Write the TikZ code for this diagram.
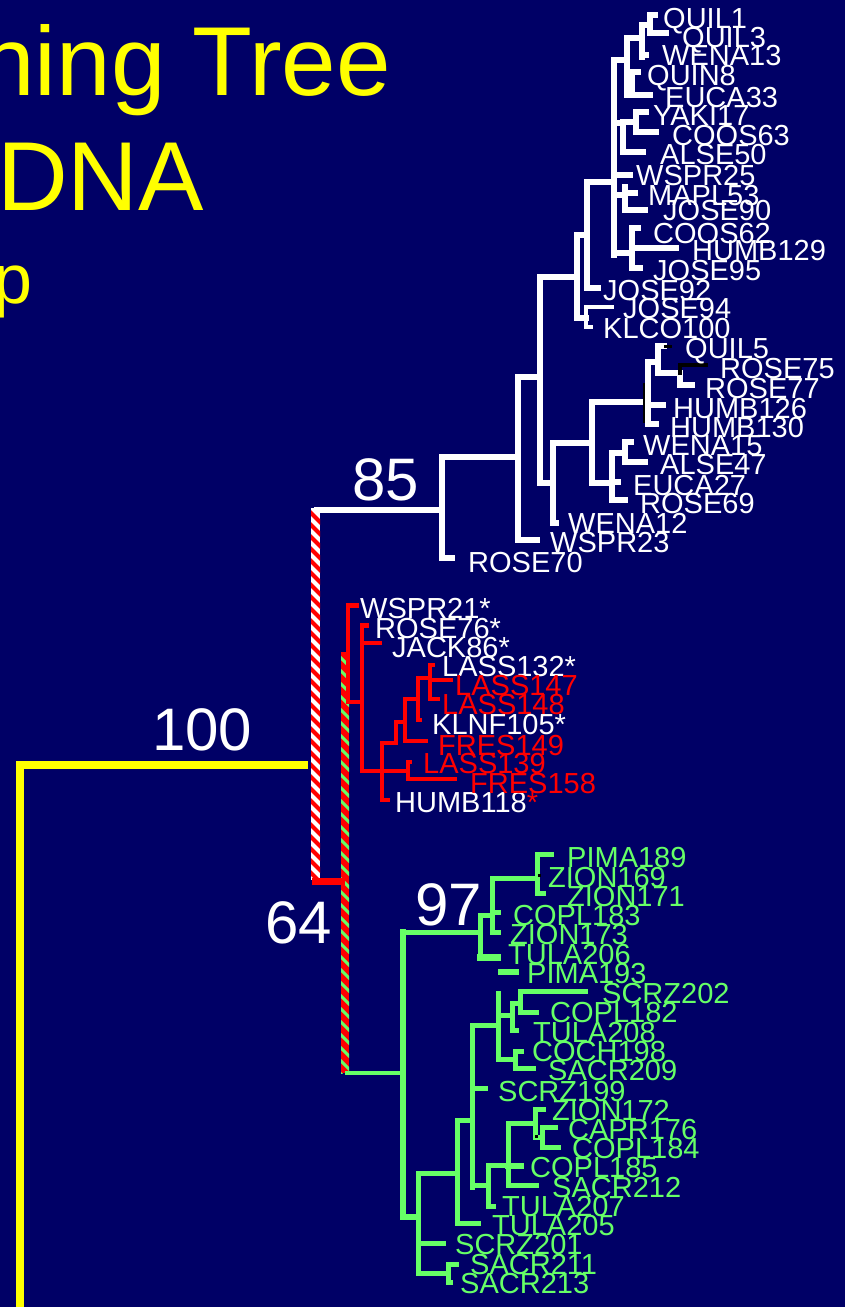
\documentclass[tikz,border=0pt]{standalone}
\usepackage{fontspec}
\setmainfont{Liberation Sans}
\definecolor{bg}{RGB}{0,0,102}
\definecolor{tgreen}{RGB}{102,255,102}
\definecolor{tred}{RGB}{255,0,0}
\definecolor{tyel}{RGB}{255,255,0}
\begin{document}
\begin{tikzpicture}[x=1pt,y=-1pt,line cap=rect,
 wl/.style={draw=white,line width=6.5pt},
 wt/.style={draw=white,line width=4pt},
 rl/.style={draw=tred,line width=4pt},
 gl/.style={draw=tgreen,line width=5pt},
 lab/.style={anchor=base west,inner sep=0pt,font=\fontsize{29}{29}\selectfont,text=white},
 rlab/.style={lab,text=tred},
 glab/.style={lab,text=tgreen},
 num/.style={anchor=base west,inner sep=0pt,font=\fontsize{60}{60}\selectfont,text=white},
 ttl/.style={inner sep=0pt,text=tyel}]
\fill[bg] (0,0) rectangle (845,1307);
\useasboundingbox (0,0) rectangle (845,1307);
% title
\node[ttl,anchor=base east,font=\fontsize{98}{98}\selectfont] (t1) at (391,95) {ning Tree};
\node[ttl,anchor=base west,font=\fontsize{98}{98}\selectfont] (t2) at (-3,210) {DNA};
\node[ttl,anchor=base west,font=\fontsize{70}{70}\selectfont] (t3) at (-7,303) {p};
% yellow root
\draw[tyel,line width=8pt,line cap=butt,line join=miter] (308,765) -- (20,765) -- (20,1320);
% white/red striped bar
\begin{scope}
\clip (311,508) rectangle (320,880);
\fill[white] (311,508) rectangle (320,880);
\foreach \k in {0,...,32} \draw[tred,line width=4pt,line cap=butt] (308,{498+\k*12}) -- (323,{513+\k*12});
\end{scope}
% red/green striped bar
\begin{scope}
\clip (341,652) rectangle (349,1073);
\fill[tred] (341,652) rectangle (349,1073);
\foreach \k in {0,...,33} \draw[tgreen,line width=3pt,line cap=butt] (338,{642+\k*13}) -- (352,{656+\k*13});
\end{scope}
\draw[tred,line width=7pt,line cap=butt] (312,881) -- (345,881);
\draw[tgreen,line width=4pt,line cap=butt] (345,1073) -- (403,1073);
% ---------- white clade ----------
\draw[wl] (317,510)--(442,510);
\draw[wl] (442,457)--(442,558);
\draw[wl] (442,558)--(452,558);
\draw[wl] (442,457)--(518,457);
\draw[wl] (518,377)--(518,540);
\draw[wl] (518,540)--(537,540);
\draw[wl] (518,377)--(540,377);
\draw[wl] (540,277)--(540,483);
\draw[wl] (540,483)--(553,483);
\draw[wl] (553,443)--(553,523);
\draw[wl] (553,523)--(556,523);
\draw[wl] (553,443)--(592,443);
\draw[wl] (592,402)--(592,483);
\draw[wl] (592,402)--(648,402);
\draw[wl] (648,362)--(648,424);
\draw[wl] (648,405)--(663,405);
\draw[wl] (648,424)--(656,424);
\draw[wl] (648,362)--(658,362);
\draw[wl] (658,346)--(658,373);
\draw[wl] (658,346)--(664,346);
\draw[black,line width=3pt] (665,346)--(670,346);
\draw[wl] (658,373)--(680,373);
\draw[wl] (680,376)--(680,385);
\draw[black,line width=4pt] (680,373)--(680,365)--(706,365);
\draw[wl] (680,385)--(692,385);
\draw[black,line width=2pt,line cap=butt] (644,383)--(644,423);
\draw[wl] (592,483)--(612,483);
\draw[wl] (612,453)--(612,500);
\draw[wl] (612,482)--(618,482);
\draw[wl] (612,500)--(625,500);
\draw[wl] (612,453)--(625,453);
\draw[wl] (625,442)--(625,462);
\draw[wl] (625,442)--(631,442);
\draw[wl] (625,462)--(645,462);
\draw[wl] (540,277)--(577,277);
\draw[wl] (577,235)--(577,318);
\draw[wl] (577,235)--(587,235);
\draw[wl] (587,182)--(587,288);
\draw[wl] (587,288)--(598,288);
\draw[wl] (577,318)--(586,318);
\draw[wt] (586,307)--(586,327);
\draw[wt] (586,307)--(612,307);
\draw[wt] (586,327)--(591,327);
\draw[wl] (587,182)--(614,182);
\draw[wl] (614,60)--(614,255);
\draw[wl] (614,253)--(632,253);
\draw[wl] (632,228)--(632,268);
\draw[wl] (632,228)--(638,228);
\draw[wl] (635,248)--(676,248);
\draw[wl] (632,268)--(640,268);
\draw[wl] (614,175)--(630,175);
\draw[wl] (614,195)--(625,195);
\draw[wl] (625,187)--(625,210);
\draw[wl] (625,193)--(635,193);
\draw[wl] (625,210)--(645,210);
\draw[wl] (614,60)--(627,60);
\draw[wl] (627,38)--(627,95);
\draw[wl] (627,38)--(642,38);
\draw[wl] (642,25)--(642,57);
\draw[wl] (642,25)--(650,25);
\draw[wl] (650,15)--(650,33);
\draw[wl] (650,15)--(655,15);
\draw[wl] (650,33)--(666,33);
\draw[wl] (642,55)--(646,55);
\draw[wl] (627,72)--(638,72);
\draw[wl] (632,72)--(632,95);
\draw[wl] (627,95)--(650,95);
\draw[wl] (614,123)--(623,123);
\draw[wl] (623,123)--(623,152);
\draw[wl] (623,152)--(643,152);
\draw[wl] (623,122)--(636,122);
\draw[wl] (636,112)--(636,132);
\draw[wl] (636,112)--(646,112);
\draw[wl] (636,132)--(656,132);
% ---------- red clade ----------
\draw[rl] (348,605)--(348,702);
\draw[rl,line width=5pt] (348,605)--(356,605);
\draw[rl] (348,702)--(362,702);
\draw[rl] (362,625)--(362,771);
\draw[rl,line width=5pt] (362,625)--(366,625);
\draw[rl] (362,643)--(380,643);
\draw[rl] (362,771)--(408,771);
\draw[rl] (382,743)--(382,800);
\draw[rl] (382,800)--(388,800);
\draw[rl] (382,743)--(396,743);
\draw[rl] (396,722)--(396,743);
\draw[rl] (396,722)--(405,722);
\draw[rl] (405,699)--(405,741);
\draw[rl] (405,741)--(426,741);
\draw[rl] (405,699)--(418,699);
\draw[rl] (418,678)--(418,720);
\draw[rl] (418,720)--(420,720);
\draw[rl] (418,678)--(430,678);
\draw[rl] (430,665)--(430,699);
\draw[rl] (430,665)--(433,665);
\draw[rl] (430,680)--(451,680);
\draw[rl] (430,699)--(438,699);
\draw[rl] (408,762)--(408,779);
\draw[rl] (408,762)--(410,762);
\draw[rl] (408,779)--(455,779);
% ---------- green clade ----------
\draw[gl,line width=6pt] (403,932)--(403,1217);
\draw[gl] (403,932)--(480,932);
\draw[gl] (480,915)--(480,957);
\draw[gl,line width=7pt] (480,957)--(497,957);
\draw[gl] (480,915)--(492,915);
\draw[gl] (492,878)--(492,932);
\draw[gl] (492,878)--(537,878);
\draw[gl] (492,912)--(498,912);
\draw[gl] (492,932)--(498,932);
\draw[gl] (537,854)--(537,893);
\draw[gl] (537,854)--(551,854);
\draw[gl] (537,893)--(543,893);
\fill[black] (538,874) rectangle (541,877);
\draw[gl,line width=6pt] (501,972)--(516,972);
\draw[gl] (498,993)--(498,1059);
\draw[gl] (475,1025)--(498,1025);
\draw[gl] (498,1015)--(512,1015);
\draw[gl] (512,1003)--(512,1030);
\draw[gl] (512,1030)--(516,1030);
\draw[gl] (512,1003)--(520,1003);
\draw[gl] (520,991)--(520,1012);
\draw[gl] (520,991)--(585,991);
\draw[gl] (520,1012)--(536,1012);
\draw[gl] (498,1059)--(515,1059);
\draw[gl] (515,1051)--(515,1068);
\draw[gl] (515,1051)--(521,1051);
\draw[gl] (515,1068)--(533,1068);
\draw[gl] (472,1025)--(472,1187);
\draw[gl] (472,1088)--(485,1088);
\draw[gl] (472,1185)--(488,1185);
\draw[gl] (488,1165)--(488,1206);
\draw[gl] (488,1206)--(493,1206);
\draw[gl] (488,1165)--(508,1165);
\draw[gl] (508,1123)--(508,1185);
\draw[gl,line width=6pt] (508,1166)--(521,1166);
\draw[gl] (508,1185)--(536,1185);
\draw[gl] (508,1123)--(535,1123);
\draw[gl] (535,1109)--(535,1137);
\draw[gl] (535,1109)--(543,1109);
\draw[gl] (535,1137)--(542,1137);
\draw[gl] (542,1127)--(542,1147);
\draw[gl] (542,1127)--(555,1127);
\draw[gl] (542,1147)--(558,1147);
\fill[black] (535,1135) rectangle (538,1138);
\draw[gl] (457,1120)--(472,1120);
\draw[gl] (457,1120)--(457,1223);
\draw[gl] (457,1223)--(478,1223);
\draw[gl] (418,1173)--(457,1173);
\draw[gl] (418,1173)--(418,1273);
\draw[gl] (418,1243)--(443,1243);
\draw[gl] (418,1273)--(448,1273);
\draw[gl] (448,1264)--(448,1282);
\draw[gl] (448,1264)--(456,1264);
\draw[gl] (448,1282)--(450,1282);
\draw[gl,line width=6pt] (403,1217)--(418,1217);
% ---------- numbers ----------
\node[num] (n85) at (352,500) {85};
\node[num] (n100) at (152,750) {100};
\node[num] (n64) at (265,943) {64};
\node[num] (n97) at (415,925) {97};
% ---------- white labels ----------
\node[lab] (QUIL1) at (663,28) {QUIL1};
\node[lab] (QUIL3) at (682,47) {QUIL3};
\node[lab] (WENA13) at (662,65) {WENA13};
\node[lab] (QUIN8) at (647,85) {QUIN8};
\node[lab] (EUCA33) at (665,107) {EUCA33};
\node[lab] (YAKI17) at (653,125) {YAKI17};
\node[lab] (COOS63) at (672,145) {COOS63};
\node[lab] (ALSE50) at (660,164) {ALSE50};
\node[lab] (WSPR25) at (636,185) {WSPR25};
\node[lab] (MAPL53) at (648,205) {MAPL53};
\node[lab] (JOSE90) at (663,220) {JOSE90};
\node[lab] (COOS62) at (653,243) {COOS62};
\node[lab] (HUMB129) at (692,260) {HUMB129};
\node[lab] (JOSE95) at (653,280) {JOSE95};
\node[lab] (JOSE92) at (603,300) {JOSE92};
\node[lab] (JOSE94) at (623,318) {JOSE94};
\node[lab] (KLCO100) at (603,338) {KLCO100};
\node[lab] (QUIL5) at (685,358) {QUIL5};
\node[lab] (ROSE75) at (720,378) {ROSE75};
\node[lab] (ROSE77) at (705,398) {ROSE77};
\node[lab] (HUMB126) at (673,418) {HUMB126};
\node[lab] (HUMB130) at (670,437) {HUMB130};
\node[lab] (WENA15) at (643,455) {WENA15};
\node[lab] (ALSE47) at (660,474) {ALSE47};
\node[lab] (EUCA27) at (633,495) {EUCA27};
\node[lab] (ROSE69) at (640,513) {ROSE69};
\node[lab] (WENA12) at (568,533) {WENA12};
\node[lab] (WSPR23) at (550,552) {WSPR23};
\node[lab] (ROSE70) at (468,572) {ROSE70};
% ---------- red clade labels ----------
\node[lab] (WSPR21) at (360,618) {WSPR21*};
\node[lab] (ROSE76) at (375,638) {ROSE76*};
\node[lab] (JACK86) at (392,657) {JACK86*};
\node[lab] (LASS132) at (442,676) {LASS132*};
\node[rlab] (LASS147) at (455,695) {LASS147};
\node[rlab] (LASS148) at (442,714) {LASS148};
\node[lab] (KLNF105) at (432,734) {KLNF105*};
\node[rlab] (FRES149) at (438,755) {FRES149};
\node[rlab] (LASS139) at (423,773) {LASS139};
\node[lab] (HUMB118) at (395,812) {HUMB118\textcolor{tred}{*}};
\node[rlab] (FRES158) at (470,793) {FRES158};
% ---------- green labels ----------
\node[glab] (PIMA189) at (567,867) {PIMA189};
\node[glab] (ZION169) at (548,887) {ZION169};
\node[glab] (ZION171) at (567,906) {ZION171};
\node[glab] (COPL183) at (513,925) {COPL183};
\node[glab] (ZION173) at (510,944) {ZION173};
\node[glab] (TULA206) at (508,964) {TULA206};
\node[glab] (PIMA193) at (527,983) {PIMA193};
\node[glab] (SCRZ202) at (602,1003) {SCRZ202};
\node[glab] (COPL182) at (550,1022) {COPL182};
\node[glab] (TULA208) at (533,1042) {TULA208};
\node[glab] (COCH198) at (532,1061) {COCH198};
\node[glab] (SACR209) at (548,1080) {SACR209};
\node[glab] (SCRZ199) at (498,1101) {SCRZ199};
\node[glab] (ZION172) at (552,1120) {ZION172};
\node[glab] (CAPR176) at (568,1139) {CAPR176};
\node[glab] (COPL184) at (572,1158) {COPL184};
\node[glab] (COPL185) at (530,1177) {COPL185};
\node[glab] (SACR212) at (552,1197) {SACR212};
\node[glab] (TULA207) at (502,1216) {TULA207};
\node[glab] (TULA205) at (492,1235) {TULA205};
\node[glab] (SCRZ201) at (455,1254) {SCRZ201};
\node[glab] (SACR211) at (470,1274) {SACR211};
\node[glab] (SACR213) at (460,1293) {SACR213};
\end{tikzpicture}
\end{document}
